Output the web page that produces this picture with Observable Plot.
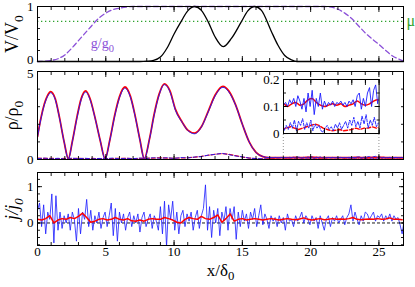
<!DOCTYPE html>
<html><head><meta charset="utf-8">
<script src="https://cdn.jsdelivr.net/npm/d3@7"></script>
<script src="https://cdn.jsdelivr.net/npm/@observablehq/plot@0.6"></script>
<style>
body{margin:0;background:#fff}
#c{position:relative;width:415px;height:287px;overflow:hidden;background:#fff}
#c svg{position:absolute;overflow:visible}
</style></head><body><div id="c"></div>
<script>
// ---------- DATA ----------
const xDomain = [0, 26.8];
const xMajorTicks = [0, 5, 10, 15, 20, 25];
const xMinorTicks = d3.range(0, 27, 1);

// top panel: g/g0 (purple dashed), V/V0 (black), mu (green dotted)
const gX = [0,0.5,1,1.5,2,2.5,3,3.5,4,4.5,5,5.5,6,6.5,7,21,21.5,22,22.5,23,23.5,24,24.5,25,25.5,26,26.5,26.8];
const gVal = [0,0.005,0.02,0.05,0.12,0.24,0.38,0.52,0.66,0.79,0.88,0.94,0.97,0.99,1,1,0.99,0.95,0.88,0.78,0.65,0.52,0.41,0.31,0.2,0.1,0.04,0.01];
const vX = [0,7.5,8,8.5,9,9.5,10,10.5,11,11.5,12,12.5,13,13.6,14.2,14.9,15.4,15.9,16.4,17.1,17.6,18.1,18.6,19,26.8];
const vVal = [0,0,0.005,0.02,0.08,0.25,0.5,0.72,0.92,1,0.93,0.72,0.45,0.27,0.42,0.71,0.92,1,0.93,0.56,0.3,0.11,0.03,0,0];
const muValue = 0.73;

// middle panel: density, smooth part
const rhoX = [0,0.25,0.5,0.75,0.96,1.3,1.6,1.95,2.26,2.55,2.9,3.2,3.53,3.85,4.2,4.6,4.95,5.3,5.65,6.0,6.4,6.8,7.15,7.5,7.82,8.2,8.55,8.9,9.29,9.7,10.1,10.6,11.0,11.5,12.0,12.5,13.0,13.58,14.0,14.5,15.0,15.5,16.0,16.5,16.95];
const rhoBlue = [1.27,2.3,3.1,3.6,3.79,3.4,2.4,1.0,0.03,1.0,2.4,3.4,3.83,3.4,2.4,1.05,0.03,1.1,2.45,3.5,4.05,3.55,2.45,1.1,0.03,1.15,2.55,3.65,4.25,3.85,2.8,2.1,1.65,1.46,1.84,2.7,3.6,4.1,3.85,3.1,2.0,1.0,0.4,0.17,0.11];
const rhoRed  = [1.3,2.35,3.15,3.66,3.86,3.45,2.42,1.0,0.05,1.02,2.45,3.46,3.9,3.45,2.42,1.05,0.05,1.12,2.5,3.56,4.12,3.6,2.48,1.12,0.05,1.17,2.6,3.7,4.3,3.9,2.85,2.12,1.67,1.5,1.86,2.74,3.65,4.16,3.9,3.12,2.0,1.0,0.4,0.16,0.1];
// noisy tails x = 17.1 + i*0.15 (blue) / 17.1 + i*0.3 (red)
const rhoBlueTail = [0.11,0.1,0.12,0.1,0.11,0.12,0.105,0.115,0.1,0.125,0.11,0.13,0.1,0.14,0.12,0.09,0.13,0.08,0.15,0.1,0.16,0.07,0.13,0.1,0.15,0.09,0.12,0.1,0.115,0.105,0.12,0.1,0.115,0.11,0.12,0.105,0.115,0.1,0.12,0.11,0.125,0.1,0.14,0.15,0.09,0.13,0.1,0.15,0.17,0.1,0.16,0.18,0.11,0.15,0.1,0.12,0.1,0.11,0.12,0.1,0.11,0.12,0.1,0.11,0.12,0.1];
const rhoRedTail = [0.1,0.1,0.105,0.11,0.1,0.11,0.115,0.105,0.11,0.125,0.13,0.115,0.105,0.1,0.105,0.11,0.105,0.11,0.1,0.105,0.11,0.12,0.11,0.105,0.11,0.12,0.125,0.115,0.11,0.1,0.105,0.11,0.1];
// dashed: x = i*0.5 for 0..17
const rhoRedDash = [0.08,0.06,0.07,0.05,0.06,0.05,0.07,0.05,0.06,0.05,0.06,0.05,0.07,0.06,0.05,0.06,0.07,0.08,0.1,0.08,0.07,0.09,0.1,0.13,0.18,0.24,0.3,0.34,0.3,0.22,0.14,0.08,0.05,0.03,0.02];
const rhoBlueDash = [0.05,0.08,0.04,0.07,0.03,0.08,0.05,0.07,0.04,0.06,0.05,0.08,0.04,0.07,0.05,0.08,0.06,0.1,0.07,0.1,0.06,0.11,0.09,0.14,0.17,0.25,0.29,0.35,0.28,0.2,0.15,0.08,0.05,0.04,0.03];
const rhoBlueDashTail = [0.02,0.03,0.01,0.025,0.02,0.035,0.01,0.03,0.015,0.04,0.02,0.05,0.01,0.045,0.03,0.055,0.015,0.04,0.02,0.05,0.01,0.035,0.02,0.03,0.01,0.005,0.02,0.03,0.015,0.025,0.01,0.035,0.02,0.04,0.015,0.03,0.045,0.02,0.05,0.03,0.06,0.025,0.045,0.02,0.065,0.035,0.07,0.02,0.05,0.03,0.06,0.025,0.04,0.02,0.035,0.015,0.03,0.02,0.025,0.015,0.03,0.02,0.025,0.015,0.02,0.02];
const rhoRedDashTail = [0.02,0.02,0.015,0.02,0.025,0.02,0.015,0.02,0.025,0.03,0.035,0.03,0.02,0.015,0.01,0.012,0.015,0.01,0.012,0.015,0.02,0.015,0.02,0.02,0.025,0.02,0.025,0.03,0.025,0.02,0.02,0.02,0.02];
const insetYTicks = [0, 0.1, 0.2];

// bottom panel: current, blue x = i*0.15, red x = i*0.3
const jBlue = [
0.35,0.55,-0.1,0.5,-0.3,0.3,0.1,0.8,-0.55,0.75,
-0.2,0.3,-0.15,0.2,0.0,0.25,-0.2,0.3,0.1,-0.5,
0.4,-0.3,0.3,0.1,0.65,-0.1,0.35,-0.2,0.2,0.0,
0.3,-0.15,0.15,0.3,-0.1,0.2,0.55,-0.35,0.4,-0.5,
0.3,0.0,0.25,-0.2,0.15,0.3,-0.1,0.2,0.0,0.25,
-0.25,0.15,0.3,-0.1,0.1,0.25,-0.15,0.2,0.05,-0.2,
0.45,-0.3,0.6,-0.65,0.5,0.1,0.6,-0.2,0.3,-0.3,
0.2,0.35,-0.1,0.25,0.05,0.3,-0.2,0.15,0.35,-0.15,
0.2,0.4,1.05,-0.2,0.45,-0.4,0.35,0.0,0.4,-0.35,
0.3,0.05,0.45,-0.2,0.4,0.1,0.45,-0.45,0.3,-0.1,
0.35,0.05,0.25,-0.15,0.3,0.1,0.4,-0.1,0.2,0.5,
-0.05,0.25,0.1,-0.15,0.2,0.05,0.15,-0.1,0.2,0.0,
0.15,-0.2,0.25,0.05,0.1,-0.1,0.2,0.05,0.15,0.3,
0.0,0.2,0.1,-0.05,0.2,0.05,0.15,-0.15,0.2,0.0,
-0.2,0.1,0.2,-0.1,0.15,0.05,0.2,0.0,0.1,0.2,
-0.05,0.15,0.25,0.5,0.05,0.3,0.1,-0.05,0.2,0.05,
0.3,0.25,0.1,0.2,0.3,0.05,0.2,0.15,0.25,0.05,
0.2,0.1,0.25,0.05,0.2,0.1,0.15,-0.05,-0.3,0.1];
const jRed = [
0.1,0.08,0.12,0.2,0.0,0.08,0.12,0.1,0.15,0.12,
0.18,0.27,0.15,0.02,0.05,0.1,0.12,0.08,0.1,0.15,
0.1,0.08,0.12,0.06,0.05,0.08,0.05,0.1,0.12,0.1,
0.1,0.15,0.12,0.08,0.02,0.0,0.1,0.15,0.12,0.1,
0.18,0.12,0.1,0.15,0.22,0.02,0.12,0.25,0.05,0.1,
0.12,0.08,0.1,0.12,0.1,0.08,0.1,0.12,0.1,0.08,
0.1,0.12,0.1,0.09,0.11,0.14,0.1,0.08,0.1,0.12,
0.09,0.1,0.12,0.1,0.11,0.1,0.12,0.15,0.1,0.09,
0.1,0.11,0.1,0.12,0.1,0.11,0.14,0.1,0.1,0.09];

// ---------- HELPERS ----------
const pts = (xs, ys) => ys.map((y, i) => ({x: xs[i], y}));
const stepPts = (x0, dx, ys) => ys.map((y, i) => ({x: x0 + i * dx, y}));

const BLUE = "#1a1aff", RED = "#ff0000", PURPLE = "#8b50d8", GREEN = "#2ea32e";
const FF = "Liberation Serif";
const style = {background: "transparent", fontFamily: FF, fontSize: "13px", overflow: "visible"};

function boxTicks(xMaj, xMin, yMaj, yMin) {
  const o = {fill: "none", label: null, strokeWidth: 0.9};
  return [
    Plot.axisX({...o, ticks: xMin, anchor: "bottom", tickSize: -3}),
    Plot.axisX({...o, ticks: xMaj, anchor: "bottom", tickSize: -5}),
    Plot.axisX({...o, ticks: xMin, anchor: "top", tickSize: -3}),
    Plot.axisX({...o, ticks: xMaj, anchor: "top", tickSize: -5}),
    Plot.axisY({...o, ticks: yMin, anchor: "left", tickSize: -3}),
    Plot.axisY({...o, ticks: yMaj, anchor: "left", tickSize: -5}),
    Plot.axisY({...o, ticks: yMin, anchor: "right", tickSize: -3}),
    Plot.axisY({...o, ticks: yMaj, anchor: "right", tickSize: -5})
  ];
}
function yLabels(ticks, dy = 0) {
  return Plot.text(ticks, {y: d => d, text: d => String(d), frameAnchor: "left", dx: -4, dy, textAnchor: "end", fontSize: 13, fontFamily: FF, clip: false});
}
function yTitle(t, italic) {
  return Plot.text([t], {text: d => d, frameAnchor: "left", dx: -25, rotate: -90, fontSize: 18, fontFamily: FF, fontStyle: italic ? "italic" : "normal", textAnchor: "middle"});
}
function subs(svg) {
  d3.select(svg).selectAll("text").each(function() {
    const t = this.textContent;
    if (!t.includes("_")) return;
    const [a, b] = t.split("_");
    const s = d3.select(this);
    s.selectAll("*").remove();
    s.text(null);
    s.append("tspan").text(a);
    s.append("tspan").attr("dy", "0.35em").attr("font-size", "0.75em").text(b);
  });
  d3.select(svg).selectAll("text").attr("font-family", FF).style("font-family", "'Liberation Serif', serif");
  return svg;
}
const container = document.getElementById("c");
function place(svg, left, top) {
  svg.style.left = left + "px"; svg.style.top = top + "px";
  container.appendChild(subs(svg));
}
const ML = 37, MR = 12, W = 415;

// ---------- PANEL 1 ----------
const p1 = Plot.plot({
  width: W, height: 66, marginLeft: ML, marginRight: MR, marginTop: 6, marginBottom: 5,
  x: {domain: xDomain, label: null}, y: {domain: [0, 1], label: null}, style,
  marks: [
    Plot.ruleY([muValue], {stroke: GREEN, strokeWidth: 1.3, strokeDasharray: "1.3,2.7"}),
    Plot.line(pts(gX, gVal), {x: "x", y: "y", stroke: PURPLE, strokeWidth: 1.3, strokeDasharray: "5,3", curve: "monotone-x"}),
    Plot.line(pts(vX, vVal), {x: "x", y: "y", stroke: "black", strokeWidth: 1.3, curve: "monotone-x"}),
    Plot.text(["g/g_0"], {text: d => d, x: 3.9, y: 0.33, textAnchor: "start", fill: PURPLE, fontSize: 14, fontFamily: FF}),
    Plot.text(["μ"], {text: d => d, x: xDomain[1], y: muValue, dx: 3, textAnchor: "start", fill: GREEN, fontSize: 16, fontFamily: FF}),
    ...boxTicks(xMajorTicks, xMinorTicks, [0, 1], d3.range(0, 1.01, 0.2)),
    yLabels([1]),
    yLabels([0], -1.5),
    yTitle("V/V_0", false),
    Plot.frame({stroke: "black", strokeWidth: 1})
  ]
});
place(p1, 0, 0);

// ---------- PANEL 2 ----------
const insetBox = {x: [18, 25], y: [1.46, 4.53]};
const rhoBlueAll = pts(rhoX, rhoBlue).concat(stepPts(17.1, 0.15, rhoBlueTail));
const rhoRedAll = pts(rhoX, rhoRed).concat(stepPts(17.1, 0.3, rhoRedTail));
const rhoBlueDashAll = stepPts(0, 0.5, rhoBlueDash).concat(stepPts(17.15, 0.15, rhoBlueDashTail));
const rhoRedDashAll = stepPts(0, 0.5, rhoRedDash).concat(stepPts(17.3, 0.3, rhoRedDashTail));
const P2TOP = 66;
const p2 = Plot.plot({
  width: W, height: 100, marginLeft: ML, marginRight: MR, marginTop: 5, marginBottom: 7,
  x: {domain: xDomain, label: null}, y: {domain: [0, 5], label: null}, style,
  marks: [
    Plot.ruleX(insetBox.x, {y1: 0, y2: insetBox.y[0], stroke: "#777", strokeWidth: 0.8, strokeDasharray: "1,2"}),
    Plot.line(rhoRedDashAll, {x: "x", y: "y", stroke: RED, strokeWidth: 1.2, strokeDasharray: "4,2", clip: true}),
    Plot.line(rhoBlueDashAll, {x: "x", y: "y", stroke: BLUE, strokeWidth: 0.9, strokeDasharray: "4,2", clip: true}),
    Plot.line(rhoRedAll, {x: "x", y: "y", stroke: RED, strokeWidth: 1.8, curve: "monotone-x", clip: true}),
    Plot.line(rhoBlueAll, {x: "x", y: "y", stroke: BLUE, strokeWidth: 0.9, curve: "monotone-x", clip: true}),
    ...boxTicks(xMajorTicks, xMinorTicks, [0, 5], d3.range(0, 5.01, 1)),
    yLabels([0]),
    yLabels([5], 2),
    yTitle("ρ/ρ_0", false),
    Plot.frame({stroke: "black", strokeWidth: 1})
  ]
});
place(p2, 0, P2TOP);

// ---------- INSET ----------
const sx = p2.scale("x"), sy = p2.scale("y");
const ix1 = sx.apply(insetBox.x[0]), ix2 = sx.apply(insetBox.x[1]);
const iyT = sy.apply(insetBox.y[1]), iyB = sy.apply(insetBox.y[0]);
const IML = 32, IMR = 2, IMT = 9, IMB = 9;
const inset = Plot.plot({
  width: ix2 - ix1 + IML + IMR, height: iyB - iyT + IMT + IMB,
  marginLeft: IML, marginRight: IMR, marginTop: IMT, marginBottom: IMB,
  x: {domain: insetBox.x, label: null}, y: {domain: [0, 0.2], label: null}, style,
  marks: [
    Plot.frame({fill: "white"}),
    Plot.line(rhoRedDashAll, {x: "x", y: "y", stroke: RED, strokeWidth: 1.4, strokeDasharray: "4,2", clip: true}),
    Plot.line(rhoBlueDashAll, {x: "x", y: "y", stroke: BLUE, strokeWidth: 0.9, strokeDasharray: "3,1.5", clip: true}),
    Plot.line(rhoRedAll, {x: "x", y: "y", stroke: RED, strokeWidth: 1.5, curve: "monotone-x", clip: true}),
    Plot.line(rhoBlueAll, {x: "x", y: "y", stroke: BLUE, strokeWidth: 0.9, clip: true}),
    ...boxTicks(d3.range(18, 25.01, 1), d3.range(18, 25.01, 1), insetYTicks, d3.range(0, 0.201, 0.05)),
    yLabels(insetYTicks),
    Plot.frame({stroke: "black", strokeWidth: 1})
  ]
});
place(inset, ix1 - IML, P2TOP + iyT - IMT);

// ---------- PANEL 3 ----------
const p3 = Plot.plot({
  width: W, height: 121, marginLeft: ML, marginRight: MR, marginTop: 6, marginBottom: 42,
  x: {domain: xDomain, label: null}, y: {domain: [-0.62, 1.39], label: null}, style,
  marks: [
    Plot.ruleY([0], {stroke: "black", strokeWidth: 0.9, strokeDasharray: "3,2"}),
    Plot.line(stepPts(0, 0.15, jBlue), {x: "x", y: "y", stroke: BLUE, strokeWidth: 0.8, clip: true}),
    Plot.line(stepPts(0, 0.3, jRed), {x: "x", y: "y", stroke: RED, strokeWidth: 1.5, clip: true}),
    ...boxTicks(xMajorTicks, xMinorTicks, [0, 1], d3.range(-0.6, 1.39, 0.2).map(v => Math.round(v * 10) / 10)),
    yLabels([0, 1]),
    Plot.text(xMajorTicks, {x: d => d, text: d => String(d), frameAnchor: "bottom", dy: 10, fontSize: 13, fontFamily: FF}),
    yTitle("j/j_0", true),
    Plot.text(["x/δ_0"], {text: d => d, frameAnchor: "bottom", dy: 30, fontSize: 17, fontFamily: FF}),
    Plot.frame({stroke: "black", strokeWidth: 1})
  ]
});
place(p3, 0, 166);
</script></body></html>
